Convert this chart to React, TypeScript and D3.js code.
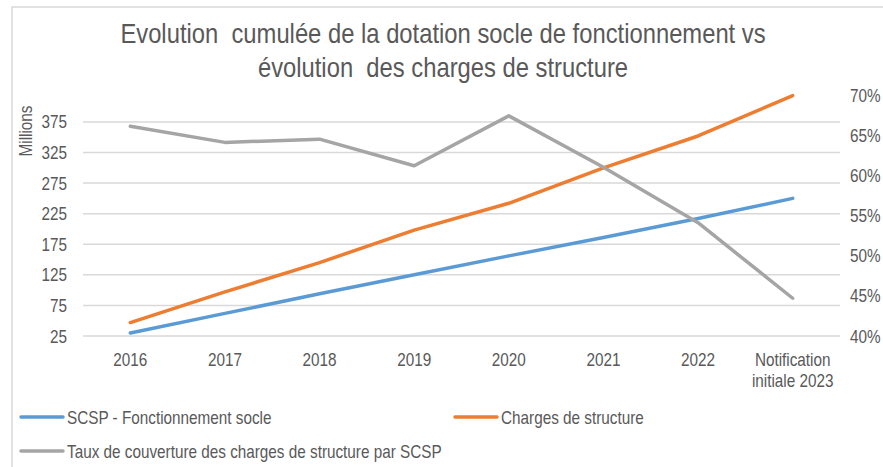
import React, { useEffect } from 'react';
import * as d3 from 'd3';

const categories = ['2016', '2017', '2018', '2019', '2020', '2021', '2022', 'Notification initiale 2023'];
const scspValues = [30, 62, 94, 125, 156, 186, 217, 250];
const chargesValues = [47, 97, 145, 198, 242, 300, 352, 418];
const tauxValues = [0.661, 0.641, 0.645, 0.612, 0.674, 0.61, 0.541, 0.447];
const leftTicks = [25, 75, 125, 175, 225, 275, 325, 375];
const rightTicks = [0.4, 0.45, 0.5, 0.55, 0.6, 0.65, 0.7];

const titleLines = [
    'Evolution  cumulée de la dotation socle de fonctionnement vs',
    'évolution  des charges de structure',
];

const FONT = "'Liberation Sans', Arial, sans-serif";
const TEXT = '#595959';
// no narrow font installed: squeeze the glyphs horizontally instead
const SQUEEZE = 0.85;

const W = 883;
const H = 467;

type NTProps = {
    x: number;
    y: number;
    size: number;
    anchor?: 'start' | 'middle' | 'end';
    rotate?: number;
    children: React.ReactNode;
};

const NarrowText: React.FC<NTProps> = ({ x, y, size, anchor = 'start', rotate = 0, children }) => (
    <g transform={`translate(${x},${y}) rotate(${rotate}) scale(${SQUEEZE},1)`}>
        <text x={0} y={0} textAnchor={anchor} fontSize={size} fill={TEXT} style={{ whiteSpace: 'pre' }}>
            {children}
        </text>
    </g>
);

const App: React.FC = () => {
    useEffect(() => {
        document.body.style.margin = '0';
    }, []);

    const x = d3.scaleBand<string>().domain(categories).range([83, 840]);
    const yLeft = d3.scaleLinear().domain([25, 419]).range([336, 95]);
    const yRight = d3.scaleLinear().domain([0.4, 0.7]).range([336, 95]);
    const cx = (c: string) => (x(c) ?? 0) + x.bandwidth() / 2;

    const leftLine = d3.line<number>()
        .x((_, i) => cx(categories[i]))
        .y(d => yLeft(d));
    const rightLine = d3.line<number>()
        .x((_, i) => cx(categories[i]))
        .y(d => yRight(d));

    const series = [
        { name: 'SCSP - Fonctionnement socle', color: '#5b9bd5', path: leftLine(scspValues) },
        { name: 'Charges de structure', color: '#ed7d31', path: leftLine(chargesValues) },
        { name: 'Taux de couverture des charges de structure par SCSP', color: '#a5a5a5', path: rightLine(tauxValues) },
    ];

    const legendPos = [
        { x: 21, y: 417 },
        { x: 455, y: 417 },
        { x: 21, y: 451 },
    ];

    return (
        <div style={{ position: 'fixed', left: 0, top: 0 }}>
            <svg width={W} height={H} style={{ display: 'block', fontFamily: FONT }}>
                <rect x={0} y={0} width={W} height={H} fill="#fff" />
                <rect x={12} y={7} width={W} height={H} fill="none" stroke="#d9d9d9" strokeWidth={1.5} />

                {titleLines.map((t, i) => (
                    <NarrowText key={t} x={443} y={43 + i * 34} size={28} anchor="middle">{t}</NarrowText>
                ))}

                {leftTicks.map(t => (
                    <line key={t} x1={83} x2={840} y1={yLeft(t)} y2={yLeft(t)} stroke="#d9d9d9" strokeWidth={1.5} />
                ))}
                {leftTicks.map(t => (
                    <NarrowText key={t} x={67} y={yLeft(t) + 6.5} size={18} anchor="end">{t}</NarrowText>
                ))}

                <NarrowText x={32} y={131} size={18} anchor="middle" rotate={-90}>Millions</NarrowText>

                {rightTicks.map(t => (
                    <NarrowText key={t} x={850} y={yRight(t) + 6.5} size={18}>{d3.format('.0%')(t)}</NarrowText>
                ))}

                {categories.map(c => {
                    const parts = c.startsWith('Notification') ? ['Notification', 'initiale 2023'] : [c];
                    return parts.map((p, i) => (
                        <NarrowText key={p} x={cx(c)} y={366 + i * 21} size={18} anchor="middle">{p}</NarrowText>
                    ));
                })}

                {series.map(s => (
                    <path key={s.name} d={s.path ?? ''} fill="none" stroke={s.color} strokeWidth={3.5}
                        strokeLinecap="round" strokeLinejoin="round" />
                ))}

                {series.map((s, i) => (
                    <g key={s.name}>
                        <line x1={legendPos[i].x} x2={legendPos[i].x + 42} y1={legendPos[i].y} y2={legendPos[i].y}
                            stroke={s.color} strokeWidth={3.5} strokeLinecap="round" />
                        <NarrowText x={legendPos[i].x + 46} y={legendPos[i].y + 6.5} size={18}>{s.name}</NarrowText>
                    </g>
                ))}
            </svg>
        </div>
    );
};

export default App;
